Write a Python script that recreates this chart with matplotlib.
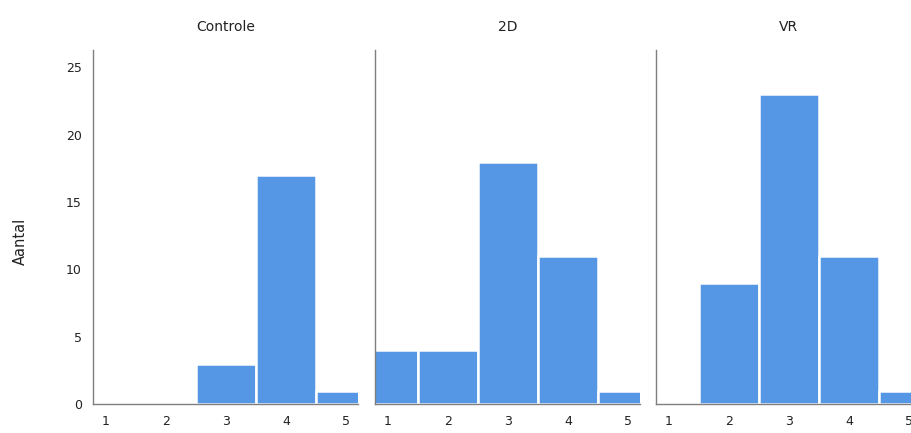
import matplotlib
matplotlib.use("Agg")
import matplotlib.pyplot as plt
import numpy as np

# scores 1-5 and counts per group
scores = [1, 2, 3, 4, 5]
groups = ["Controle", "2D", "VR"]
controle = [0, 0, 3, 17, 1]
twod = [4, 4, 18, 11, 1]
vr = [0, 9, 23, 11, 1]
counts = [controle, twod, vr]

bar_color = "#5596e5"
spine_color = "#7f7f7f"

fig = plt.figure(figsize=(9.11, 4.33), dpi=100)

# panel left edges in figure fraction (the last panel runs past the edge)
lefts = [93 / 911, 375 / 911, 656 / 911]
width = 265 / 911
bottom = (433 - 404) / 433
height = (404 - 50) / 433

for i, (name, vals) in enumerate(zip(groups, counts)):
    ax = fig.add_axes([lefts[i], bottom, width, height])
    ax.bar(scores, vals, width=1.0, color=bar_color, edgecolor="white",
           linewidth=1.8)
    ax.set_xlim(0.783, 5.2)
    ax.set_ylim(0, 26.3)
    ax.set_xticks(scores)
    ax.tick_params(length=0, labelsize=9, colors="#222222", pad=8)
    ax.set_yticks([0, 5, 10, 15, 20, 25])
    if i > 0:
        ax.tick_params(axis="y", labelleft=False)
    for s in ["top", "right"]:
        ax.spines[s].set_visible(False)
    for s in ["left", "bottom"]:
        ax.spines[s].set_color(spine_color)
        ax.spines[s].set_linewidth(1.0)
    ax.set_title(name, fontsize=10, color="#222222", pad=14)
    if i == 0:
        ax.set_ylabel("Aantal", fontsize=10.5, color="#222222")
        ax.yaxis.set_label_coords(-0.245, 0.46)

fig.savefig("out.png", dpi=100)
